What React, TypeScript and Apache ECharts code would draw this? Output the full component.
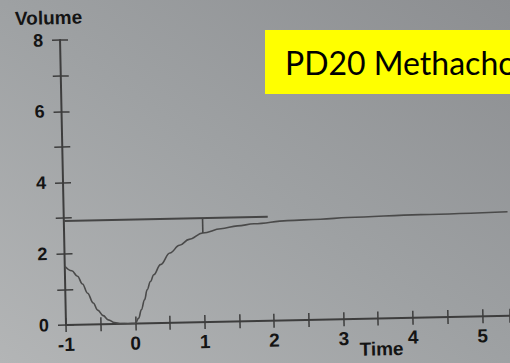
import React, { useEffect, useRef } from "react";
import * as echarts from "echarts";

// Flow-volume style curve (Volume vs Time)
const curveX = [-1.0, -0.9, -0.82, -0.75, -0.68, -0.6, -0.54, -0.46, -0.39, -0.3, -0.22, -0.1, 0.0, 0.05, 0.09, 0.14, 0.18, 0.23, 0.28, 0.38, 0.52, 0.66, 0.8, 1.0, 1.26, 1.5, 1.74, 2.22, 2.7, 3.09, 4.14, 5.4];
const curveY = [1.65, 1.52, 1.36, 1.14, 0.88, 0.6, 0.4, 0.24, 0.12, 0.04, 0.01, 0.0, 0.0, 0.15, 0.38, 0.66, 0.94, 1.17, 1.36, 1.64, 1.96, 2.17, 2.33, 2.5, 2.61, 2.68, 2.73, 2.8, 2.82, 2.85, 2.89, 2.92];
const baselineX = [-1, 1.94];
const baselineY = [2.92, 2.92];
const markerX = [1, 1];
const markerY = [2.92, 2.5];
const xTicks = { min: -1, max: 5.4, interval: 0.5 };
const yTicks = { min: 0, max: 8, interval: 1 };
const boxLabel = "PD20 Methacholine";
const xName = "Time";
const yName = "Volume";

const W = 510;
const H = 363;

const zip = (xs: number[], ys: number[]) => xs.map((x, i) => [x, ys[i]]);

export default function App() {
  const bgRef = useRef<HTMLDivElement>(null);
  const chartRef = useRef<HTMLDivElement>(null);

  useEffect(() => {
    const bg = echarts.init(bgRef.current!, null, { renderer: "svg" });
    bg.setOption({
      animation: false,
      backgroundColor: new echarts.graphic.LinearGradient(1, 0, 0, 1, [
        { offset: 0, color: "#8c8e91" },
        { offset: 0.5, color: "#9ea1a3" },
        { offset: 1, color: "#b3b5b6" },
      ]),
      graphic: [
        {
          type: "rect",
          shape: { x: 265, y: 30, width: 260, height: 64 },
          style: { fill: "#ffff00" },
        },
        {
          type: "text",
          x: 285,
          y: 62,
          style: {
            text: boxLabel,
            font: "32px Lato",
            fill: "#000000",
            textVerticalAlign: "middle",
            verticalAlign: "middle",
          },
        },
      ],
    });

    const chart = echarts.init(chartRef.current!, null, { renderer: "svg" });
    const labelStyle = {
      fontFamily: "Liberation Sans",
      fontWeight: "bold" as const,
      fontSize: 19,
      color: "#141414",
    };
    const lineColor = "#3d3d3d";
    const baseX = {
      type: "value" as const,
      min: xTicks.min,
      max: xTicks.max,
      interval: xTicks.interval,
      splitLine: { show: false },
    };
    const baseY = {
      type: "value" as const,
      min: yTicks.min,
      max: yTicks.max,
      interval: yTicks.interval,
      splitLine: { show: false },
    };
    chart.setOption({
      animation: false,
      backgroundColor: "transparent",
      grid: { left: 66, top: 40, width: 444, height: 285, outerBoundsMode: "none", containLabel: false },
      xAxis: [
        {
          ...baseX,
          name: xName,
          nameLocation: "middle",
          nameGap: 21,
          nameMoveOverlap: false,
          nameTextStyle: { ...labelStyle, align: "center", padding: [0, 0, 0, 186] },
          axisLine: { show: true, onZero: false, lineStyle: { color: lineColor, width: 2 } },
          axisTick: { show: true, inside: false, length: 7, lineStyle: { color: lineColor, width: 1.5 } },
          axisLabel: {
            ...labelStyle,
            margin: 10,
            formatter: (v: number) => (Number.isInteger(v) ? String(v) : ""),
          },
        },
        {
          ...baseX,
          position: "bottom",
          axisLine: { show: false, onZero: false },
          axisTick: { show: true, inside: true, length: 7, lineStyle: { color: lineColor, width: 1.5 } },
          axisLabel: { show: false },
        },
      ],
      yAxis: [
        {
          ...baseY,
          name: yName,
          nameLocation: "end",
          nameGap: 13,
          nameMoveOverlap: false,
          nameTextStyle: { ...labelStyle, align: "center", padding: [0, 22, 0, 0] },
          axisLine: { show: true, onZero: false, lineStyle: { color: lineColor, width: 2 } },
          axisTick: { show: true, inside: false, length: 8, lineStyle: { color: lineColor, width: 1.5 } },
          axisLabel: {
            ...labelStyle,
            fontSize: 18,
            margin: 17,
            formatter: (v: number) => (v % 2 === 0 ? String(v) : ""),
          },
        },
        {
          ...baseY,
          position: "left",
          axisLine: { show: false, onZero: false },
          axisTick: { show: true, inside: true, length: 8, lineStyle: { color: lineColor, width: 1.5 } },
          axisLabel: { show: false },
        },
      ],
      series: [
        {
          type: "line",
          data: zip(curveX, curveY),
          smooth: 0.4,
          smoothMonotone: "x",
          showSymbol: false,
          lineStyle: { color: "#4a4a4a", width: 1.6 },
        },
        {
          type: "line",
          data: zip(baselineX, baselineY),
          showSymbol: false,
          lineStyle: { color: "#454545", width: 2 },
        },
        {
          type: "line",
          data: zip(markerX, markerY),
          showSymbol: false,
          lineStyle: { color: "#454545", width: 1.6 },
        },
      ],
    });

    return () => {
      chart.dispose();
      bg.dispose();
    };
  }, []);

  return (
    <div style={{ position: "fixed", left: 0, top: 0, width: W, height: H, overflow: "hidden" }}>
      <div ref={bgRef} style={{ position: "absolute", left: 0, top: 0, width: W, height: H }} />
      <div
        ref={chartRef}
        style={{
          position: "absolute",
          left: 0,
          top: 0,
          width: W,
          height: H,
          transform: "rotate(-1.2deg)",
          transformOrigin: "66px 325px",
        }}
      />
    </div>
  );
}
